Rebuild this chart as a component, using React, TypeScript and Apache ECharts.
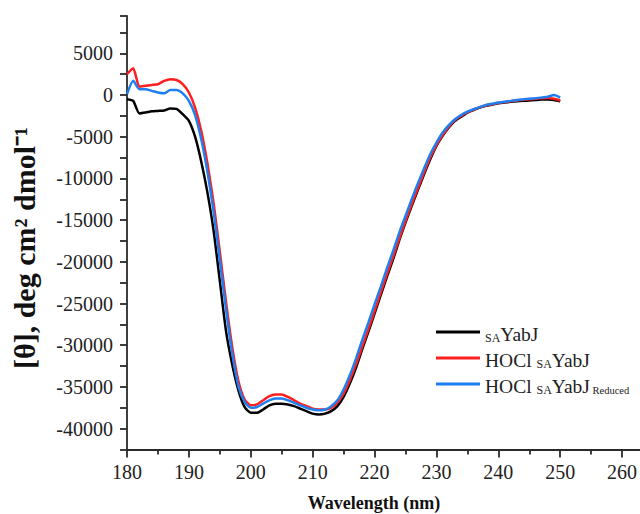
import React, { useEffect, useRef } from "react";
import * as echarts from "echarts";

const wavelengths = [
  180, 181, 182, 183, 184, 185, 186, 187, 188, 189,
  190, 191, 192, 193, 194, 195, 196, 197, 198, 199,
  200, 201, 202, 203, 204, 205, 206, 207, 208, 209,
  210, 211, 212, 213, 214, 215, 216, 217, 218, 219,
  220, 221, 222, 223, 224, 225, 226, 227, 228, 229,
  230, 231, 232, 233, 234, 235, 236, 237, 238, 239,
  240, 241, 242, 243, 244, 245, 246, 247, 248, 249,
  250,
];

const saYabJ = [
  -500, -700, -2200, -2100, -1950, -1900, -1850, -1600, -1650, -2300,
  -3100, -5000, -8000, -11700, -16300, -22300, -28300, -32300, -35400, -37400,
  -38100, -38100, -37700, -37200, -37000, -37000, -37100, -37300, -37600, -37900,
  -38200, -38300, -38200, -37900, -37300, -36200, -34600, -32700, -30500, -28400,
  -26200, -24000, -21800, -19700, -17400, -15300, -13300, -11400, -9500, -7700,
  -6100, -4900, -3900, -3100, -2600, -2100, -1800, -1500, -1300, -1150,
  -1000, -900, -820, -750, -700, -650, -600, -550, -550, -600,
  -750,
];

const hoclSaYabJ = [
  2500, 3200, 1000, 1100, 1200, 1300, 1700, 1900, 1800, 1300,
  300, -1500, -4300, -8200, -13000, -18800, -24800, -30200, -34300, -36500,
  -37200, -37100, -36600, -36100, -35900, -35900, -36200, -36600, -37000, -37300,
  -37600, -37700, -37700, -37500, -36900, -35800, -34200, -32300, -30200, -28100,
  -25900, -23700, -21500, -19400, -17200, -15100, -13100, -11200, -9300, -7500,
  -6000, -4800, -3800, -3000, -2500, -2050, -1750, -1450, -1250, -1100,
  -950, -850, -750, -650, -580, -500, -450, -400, -350, -450,
  -650,
];

const hoclSaYabJReduced = [
  100, 1700, 700, 700, 500, 300, 200, 600, 600, 200,
  -700, -2400, -5300, -9200, -14000, -19800, -25700, -31000, -34900, -36800,
  -37500, -37400, -37000, -36600, -36400, -36400, -36600, -36900, -37200, -37500,
  -37700, -37800, -37700, -37300, -36600, -35300, -33600, -31600, -29400, -27300,
  -25100, -23000, -20800, -18700, -16500, -14500, -12500, -10600, -8800, -7100,
  -5700, -4500, -3600, -2900, -2400, -2000, -1700, -1450, -1200, -1050,
  -900, -800, -700, -600, -520, -450, -380, -300, -200, 0,
  -300,
];

const seriesNames = ["SAYabJ", "HOCl SAYabJ", "HOCl SAYabJ Reduced"];
const seriesColors = ["#000000", "#ff1f1f", "#1f7ff0"];
const seriesValues = [saYabJ, hoclSaYabJ, hoclSaYabJReduced];

const SERIF = "'Liberation Serif', 'Times New Roman', serif";

export default function App() {
  const ref = useRef<HTMLDivElement>(null);

  useEffect(() => {
    if (!ref.current) return;
    const chart = echarts.init(ref.current, undefined, { renderer: "svg" });

    const legendFormatter = (name: string) => {
      if (name === seriesNames[0]) return "{sm|SA}{n|YabJ}";
      if (name === seriesNames[1]) return "{n|HOCl }{sm|SA}{n|YabJ}";
      return "{n|HOCl }{sm|SA}{n|YabJ}{r| Reduced}";
    };

    chart.setOption({
      animation: false,
      backgroundColor: "#ffffff",
      grid: { left: 127, top: 15.8, width: 557, height: 433.7, containLabel: false },
      xAxis: {
        type: "value",
        min: 180,
        max: 270,
        interval: 10,
        axisLine: { show: true, onZero: false, lineStyle: { color: "#2a2a2a", width: 1.8 } },
        axisTick: { show: true, inside: false, length: 8, lineStyle: { color: "#2a2a2a", width: 1.8 } },
        minorTick: { show: true, splitNumber: 2, length: 5, lineStyle: { color: "#2a2a2a", width: 1.8 } },
        splitLine: { show: false },
        axisLabel: {
          margin: 12,
          color: "#222",
          fontFamily: SERIF,
          fontSize: 20,
          formatter: (v: number) => (v % 10 === 0 && v <= 260 ? String(v) : ""),
        },
      },
      yAxis: {
        type: "value",
        min: -42500,
        max: 9500,
        interval: 2500,
        axisLine: { show: true, onZero: false, lineStyle: { color: "#2a2a2a", width: 1.8 } },
        axisTick: { show: true, inside: false, length: 7, lineStyle: { color: "#2a2a2a", width: 1.8 } },
        splitLine: { show: false },
        axisLabel: {
          margin: 14,
          color: "#222",
          fontFamily: SERIF,
          fontSize: 20,
          formatter: (v: number) => (v % 5000 === 0 ? String(v) : ""),
        },
      },
      legend: {
        orient: "vertical",
        left: 431,
        top: 319,
        icon: "rect",
        itemWidth: 44,
        itemHeight: 3,
        itemGap: 6,
        data: seriesNames,
        formatter: legendFormatter,
        textStyle: {
          fontFamily: SERIF,
          color: "#222",
          rich: {
            n: { fontFamily: SERIF, fontSize: 19.5, color: "#222", lineHeight: 22, verticalAlign: "bottom" },
            sm: { fontFamily: SERIF, fontSize: 12, color: "#222", lineHeight: 24, verticalAlign: "bottom" },
            r: { fontFamily: SERIF, fontSize: 10.5, color: "#222", lineHeight: 22, verticalAlign: "bottom" },
          },
        },
      },
      graphic: [
        {
          type: "text",
          x: 24,
          y: 248,
          rotation: Math.PI / 2,
          style: {
            text: "[θ], deg cm² dmol⁻¹",
            fontFamily: SERIF,
            fontWeight: "bold",
            fontSize: 30,
            fill: "#111",
            align: "center",
            verticalAlign: "middle",
          },
        },
        {
          type: "text",
          x: 374,
          y: 503,
          style: {
            text: "Wavelength (nm)",
            fontFamily: SERIF,
            fontWeight: "bold",
            fontSize: 18,
            fill: "#111",
            align: "center",
            verticalAlign: "middle",
          },
        },
      ],
      series: seriesNames.map((name, i) => ({
        name,
        type: "line",
        data: wavelengths.map((w, j) => [w, seriesValues[i][j]]),
        showSymbol: false,
        symbol: "none",
        smooth: 0.2,
        lineStyle: { color: seriesColors[i], width: 2.5 },
        itemStyle: { color: seriesColors[i] },
        z: 2 + i,
      })),
    });

    return () => {
      chart.dispose();
    };
  }, []);

  return (
    <div
      style={{
        position: "fixed",
        left: 0,
        top: 0,
        width: 640,
        height: 514,
        overflow: "hidden",
        background: "#fff",
      }}
    >
      <div ref={ref} style={{ width: 700, height: 514 }} />
    </div>
  );
}
